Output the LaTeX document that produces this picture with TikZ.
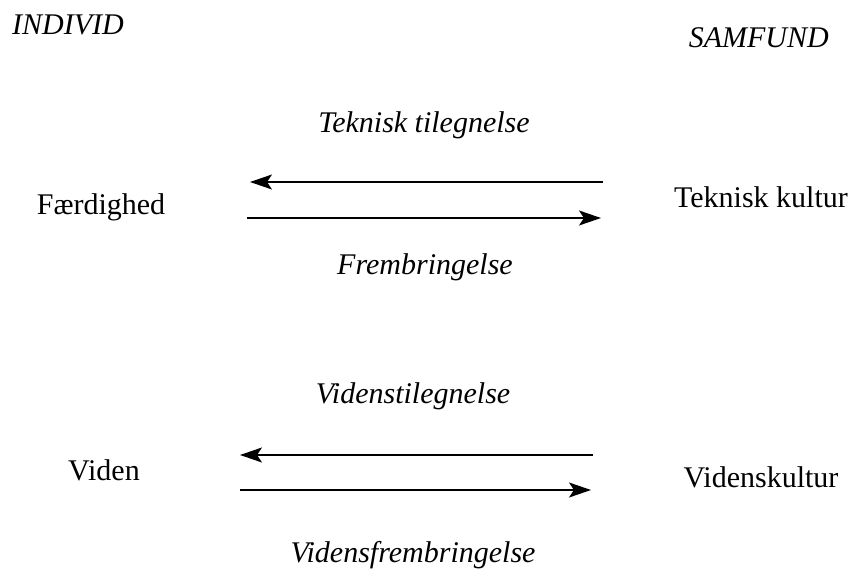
\documentclass[tikz,border=0pt]{standalone}
\usepackage{fontspec}
\setmainfont{Liberation Serif}
\usetikzlibrary{arrows.meta}
\begin{document}
\begin{tikzpicture}[x=1pt,y=-1pt,
  lbl/.style={font=\fontsize{30}{34}\selectfont\itshape, inner sep=0pt, anchor=base},
  term/.style={font=\fontsize{30}{34}\selectfont, inner sep=0pt, anchor=base},
  flow/.style={line width=1.5pt, -{Stealth[length=22pt,width=15pt,inset=5pt]}}]
\useasboundingbox (0,0) rectangle (849,569);
% column headings
\node[lbl, anchor=base west] (indivs) at (12,35) {INDIVID};
\node[lbl, anchor=base east] (samf) at (829,48) {SAMFUND};
% technical pair
\node[term] (faerd) at (101,215) {Færdighed};
\node[term] (tekkult) at (761,208) {Teknisk kultur};
\coordinate (t1r) at (603,182);
\coordinate (t1l) at (250,182);
\coordinate (t2l) at (247,218);
\coordinate (t2r) at (601,218);
\draw[flow] (t1r) -- (t1l);
\draw[flow] (t2l) -- (t2r);
\node[lbl] (tektil) at (424,133) {Teknisk tilegnelse};
\node[lbl] (frembr) at (425,275) {Frembringelse};
% knowledge pair
\node[term] (viden) at (104,480) {Viden};
\node[term] (vidkult) at (761,487) {Videnskultur};
\coordinate (v1r) at (593,455);
\coordinate (v1l) at (240,455);
\coordinate (v2l) at (240,490);
\coordinate (v2r) at (591,490);
\draw[flow] (v1r) -- (v1l);
\draw[flow] (v2l) -- (v2r);
\node[lbl] (vidtil) at (413,403) {Videnstilegnelse};
\node[lbl] (vidfrem) at (413,562) {Vidensfrembringelse};
\end{tikzpicture}
\end{document}
